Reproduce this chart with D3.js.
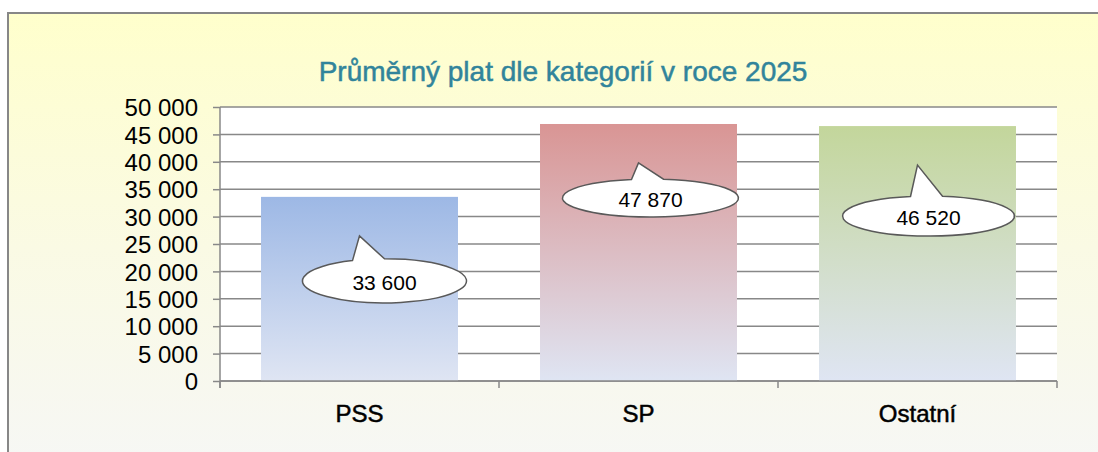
<!DOCTYPE html>
<html>
<head>
<meta charset="utf-8">
<script src="https://cdn.jsdelivr.net/npm/d3@7"></script>
<style>
  html, body { margin: 0; padding: 0; background: #fff; overflow: hidden; }
</style>
</head>
<body>
<div id="the_chart"></div>
<script>
var categories = ["PSS", "SP", "Ostatní"];
var values = [33600, 46900, 46520];           // bar heights as drawn
var calloutLabels = ["33 600", "47 870", "46 520"]; // text typed in the callouts
var yTicks = [0, 5000, 10000, 15000, 20000, 25000, 30000, 35000, 40000, 45000, 50000];
var title = "Průměrný plat dle kategorií v roce 2025";

var barTop = ["#9db8e5", "#d99594", "#c3d69b"];
var barBottom = "#dfe5f3";

var w = 1098;
var h = 452;
var plot = { left: 220, right: 1057, top: 107, bottom: 381 };

var svg = d3.select("#the_chart")
    .append("svg")
    .attr("width", w)
    .attr("height", h);

var defs = svg.append("defs");

// background of the chart box
var bg = defs.append("linearGradient")
    .attr("id", "bg")
    .attr("x1", 0).attr("y1", 0).attr("x2", 0).attr("y2", 1);
bg.append("stop").attr("offset", "0%").attr("stop-color", "#ffffcc");
bg.append("stop").attr("offset", "45%").attr("stop-color", "#fafae4");
bg.append("stop").attr("offset", "100%").attr("stop-color", "#f5f6fa");

barTop.forEach(function (c, i) {
    var g = defs.append("linearGradient")
        .attr("id", "bar" + i)
        .attr("x1", 0).attr("y1", 0).attr("x2", 0).attr("y2", 1);
    g.append("stop").attr("offset", "0%").attr("stop-color", c);
    g.append("stop").attr("offset", "100%").attr("stop-color", barBottom);
});

svg.append("rect")
    .attr("x", 8)
    .attr("y", 13)
    .attr("width", 1200)
    .attr("height", 520)
    .attr("fill", "url(#bg)")
    .attr("stroke", "#878787")
    .attr("stroke-width", 2);

svg.append("text")
    .attr("x", 563)
    .attr("y", 81)
    .attr("text-anchor", "middle")
    .attr("font-family", "'Liberation Sans', Arial, sans-serif")
    .attr("font-size", 28)
    .attr("fill", "#31849b")
    .attr("stroke", "#31849b")
    .attr("stroke-width", 0.5)
    .text(title);

var x = d3.scaleBand()
    .domain(categories)
    .range([plot.left, plot.right])
    .paddingInner(0.294)
    .paddingOuter(0.147);

var y = d3.scaleLinear()
    .domain([0, 50000])
    .range([plot.bottom, plot.top]);

svg.append("rect")
    .attr("x", plot.left)
    .attr("y", plot.top)
    .attr("width", plot.right - plot.left)
    .attr("height", plot.bottom - plot.top)
    .attr("fill", "#ffffff");

// gridlines
svg.append("g")
    .selectAll("line")
    .data(yTicks)
    .enter()
    .append("line")
    .attr("x1", plot.left)
    .attr("x2", plot.right)
    .attr("y1", function (d) { return y(d); })
    .attr("y2", function (d) { return y(d); })
    .attr("stroke", "#888888")
    .attr("stroke-width", 1.5);

// bars
svg.append("g")
    .selectAll("rect")
    .data(values)
    .enter()
    .append("rect")
    .attr("x", function (d, i) { return x(categories[i]); })
    .attr("width", x.bandwidth())
    .attr("y", function (d) { return y(d); })
    .attr("height", function (d) { return y(0) - y(d); })
    .attr("fill", function (d, i) { return "url(#bar" + i + ")"; });

// y axis
var fmt = d3.formatLocale({ decimal: ",", thousands: "\u00a0", grouping: [3], currency: ["", " Kč"] }).format(",");
var yAxis = svg.append("g")
    .attr("transform", "translate(" + plot.left + ",0)")
    .call(d3.axisLeft(y).tickValues(yTicks).tickFormat(fmt).tickSize(7).tickPadding(15));
yAxis.select(".domain").remove();
yAxis.selectAll("line").attr("stroke", "#888888").attr("stroke-width", 1.5);
yAxis.selectAll("text")
    .attr("font-family", "'Liberation Sans', Arial, sans-serif")
    .attr("font-size", 24)
    .attr("fill", "#000")
    .attr("dy", "0.36em");

svg.append("line")
    .attr("x1", plot.left).attr("x2", plot.left)
    .attr("y1", plot.top).attr("y2", plot.bottom + 7)
    .attr("stroke", "#888888").attr("stroke-width", 1.5);

// x axis
var xAxis = svg.append("g")
    .attr("transform", "translate(0," + plot.bottom + ")")
    .call(d3.axisBottom(x).tickSize(0).tickPadding(24));
xAxis.select(".domain").remove();
xAxis.selectAll("text")
    .attr("font-family", "'Liberation Sans', Arial, sans-serif")
    .attr("font-size", 24)
    .attr("fill", "#000")
    .attr("stroke", "#000")
    .attr("stroke-width", 0.5);

svg.append("line")
    .attr("x1", plot.left).attr("x2", plot.right)
    .attr("y1", plot.bottom).attr("y2", plot.bottom)
    .attr("stroke", "#888888").attr("stroke-width", 1.5);

svg.append("g")
    .selectAll("line")
    .data(d3.range(categories.length + 1))
    .enter()
    .append("line")
    .attr("x1", function (i) { return plot.left + i * x.step(); })
    .attr("x2", function (i) { return plot.left + i * x.step(); })
    .attr("y1", plot.bottom)
    .attr("y2", plot.bottom + 7)
    .attr("stroke", "#888888")
    .attr("stroke-width", 1.5);

// callouts: ellipse offset from bar top/centre, radii
var callout = [
    { dx: 25, dy: 84, rx: 82, ry: 22 },
    { dx: 12, dy: 74, rx: 88, ry: 19 },
    { dx: 11, dy: 90, rx: 86, ry: 20 }
];

function ellipseTopY(c, px) {
    var t = (px - c.cx) / c.rx;
    return c.cy - c.ry * Math.sqrt(Math.max(0, 1 - t * t));
}

var cg = svg.append("g");
values.forEach(function (v, i) {
    var bx = x(categories[i]) + x.bandwidth() / 2;
    var by = y(v);
    var c = {
        cx: bx + callout[i].dx,
        cy: by + callout[i].dy,
        rx: callout[i].rx,
        ry: callout[i].ry
    };
    var tipX = bx, tipY = by + 39;
    var lx = tipX - 7, rx = tipX + 25;
    var ly = ellipseTopY(c, lx), ry = ellipseTopY(c, rx);
    var p = "M" + lx + "," + ly +
        "L" + tipX + "," + tipY +
        "L" + rx + "," + ry +
        "A" + c.rx + "," + c.ry + " 0 1 1 " + lx + "," + ly + "Z";
    cg.append("path")
        .attr("d", p)
        .attr("fill", "#ffffff")
        .attr("stroke", "#595959")
        .attr("stroke-width", 1.5)
        .attr("stroke-linejoin", "miter");
    cg.append("text")
        .attr("x", c.cx)
        .attr("y", c.cy + 9)
        .attr("text-anchor", "middle")
        .attr("font-family", "'Liberation Sans', Arial, sans-serif")
        .attr("font-size", 21)
        .attr("fill", "#000")
        .text(calloutLabels[i]);
});
</script>
</body>
</html>
